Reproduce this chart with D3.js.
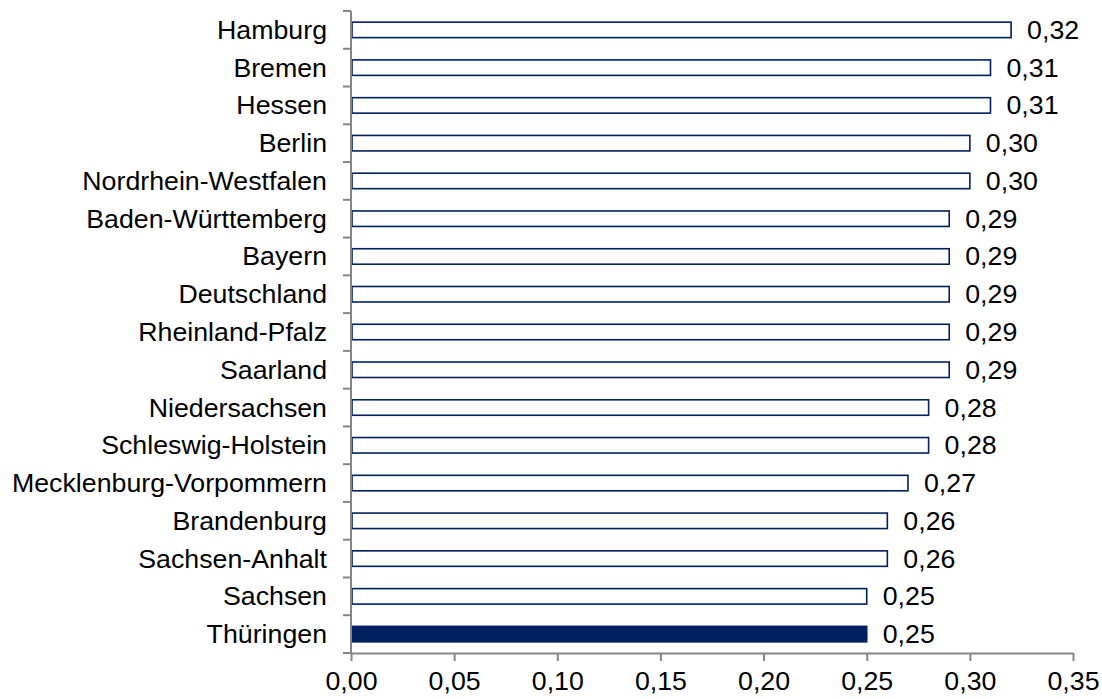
<!DOCTYPE html>
<html>
<head>
<meta charset="utf-8">
<script src="https://cdn.jsdelivr.net/npm/d3@7"></script>
<style>
  html, body { margin: 0; padding: 0; background: #ffffff; }
  svg { display: block; }
  text { font-family: "Liberation Sans", Arial, sans-serif; fill: #000; }
</style>
</head>
<body>
<svg id="chart" width="1102" height="699"></svg>
<script>
const categories = ["Hamburg","Bremen","Hessen","Berlin","Nordrhein-Westfalen","Baden-Württemberg","Bayern","Deutschland","Rheinland-Pfalz","Saarland","Niedersachsen","Schleswig-Holstein","Mecklenburg-Vorpommern","Brandenburg","Sachsen-Anhalt","Sachsen","Thüringen"];
const values = [0.32,0.31,0.31,0.30,0.30,0.29,0.29,0.29,0.29,0.29,0.28,0.28,0.27,0.26,0.26,0.25,0.25];
const highlighted = ["Thüringen"];
const xTicks = [0,0.05,0.10,0.15,0.20,0.25,0.30,0.35];

const fmt = v => v.toFixed(2).replace(".", ",");
const svg = d3.select("#chart");
const axisColor = "#868686";
const navy = "#002060";
const fontSize = 25;
const sx = 1.07; // horizontal stretch of the reference text

const x = d3.scaleLinear().domain([0, 0.35]).range([351, 1073]);
const y = d3.scaleBand().domain(categories).range([11, 653]).paddingInner(0.59).paddingOuter(0.295);

const data = categories.map((c, i) => ({ c, v: values[i] }));

// bars
svg.append("g").selectAll("rect").data(data).join("rect")
  .attr("x", x(0) + 1)
  .attr("y", d => y(d.c))
  .attr("width", d => x(d.v) - x(0) - 1)
  .attr("height", y.bandwidth())
  .attr("fill", d => highlighted.includes(d.c) ? navy : "#ffffff")
  .attr("stroke", navy)
  .attr("stroke-width", 1.6);

// value labels
svg.append("g").selectAll("text").data(data).join("text")
  .attr("transform", d => `translate(${x(d.v) + 16},${y(d.c) + y.bandwidth() / 2}) scale(${sx},1)`)
  .attr("dy", "0.36em")
  .attr("font-size", fontSize)
  .text(d => fmt(d.v));

// y axis
const band = (653 - 11) / categories.length;
const yAxis = svg.append("g");
yAxis.append("line").attr("x1", 351).attr("x2", 351).attr("y1", 11).attr("y2", 653)
  .attr("stroke", axisColor).attr("stroke-width", 2);
yAxis.selectAll("line.tick").data(d3.range(categories.length + 1)).join("line")
  .attr("class", "tick")
  .attr("x1", 343).attr("x2", 351)
  .attr("y1", i => 11 + i * band).attr("y2", i => 11 + i * band)
  .attr("stroke", axisColor).attr("stroke-width", 2);
yAxis.selectAll("text").data(categories).join("text")
  .attr("transform", d => `translate(327,${y(d) + y.bandwidth() / 2}) scale(${sx},1)`)
  .attr("dy", "0.36em")
  .attr("text-anchor", "end")
  .attr("font-size", fontSize)
  .text(d => d);

// x axis
const xAxis = svg.append("g").attr("transform", "translate(0,653)")
  .call(d3.axisBottom(x).tickValues(xTicks).tickFormat(fmt).tickSizeInner(8).tickSizeOuter(0).tickPadding(11));
xAxis.select(".domain").attr("stroke", axisColor).attr("stroke-width", 2);
xAxis.selectAll(".tick line").attr("stroke", axisColor).attr("stroke-width", 2);
xAxis.selectAll(".tick text").attr("font-size", fontSize)
  .attr("font-family", "'Liberation Sans', Arial, sans-serif").attr("fill", "#000")
  .attr("transform", `scale(${sx},1)`)
  .attr("x", function() { return 0; });
// keep tick labels centred on ticks despite scaling: scale around the tick position
xAxis.selectAll(".tick").each(function() {
  const t = d3.select(this).select("text");
  t.attr("transform", `scale(${sx},1)`);
});
</script>
</body>
</html>
